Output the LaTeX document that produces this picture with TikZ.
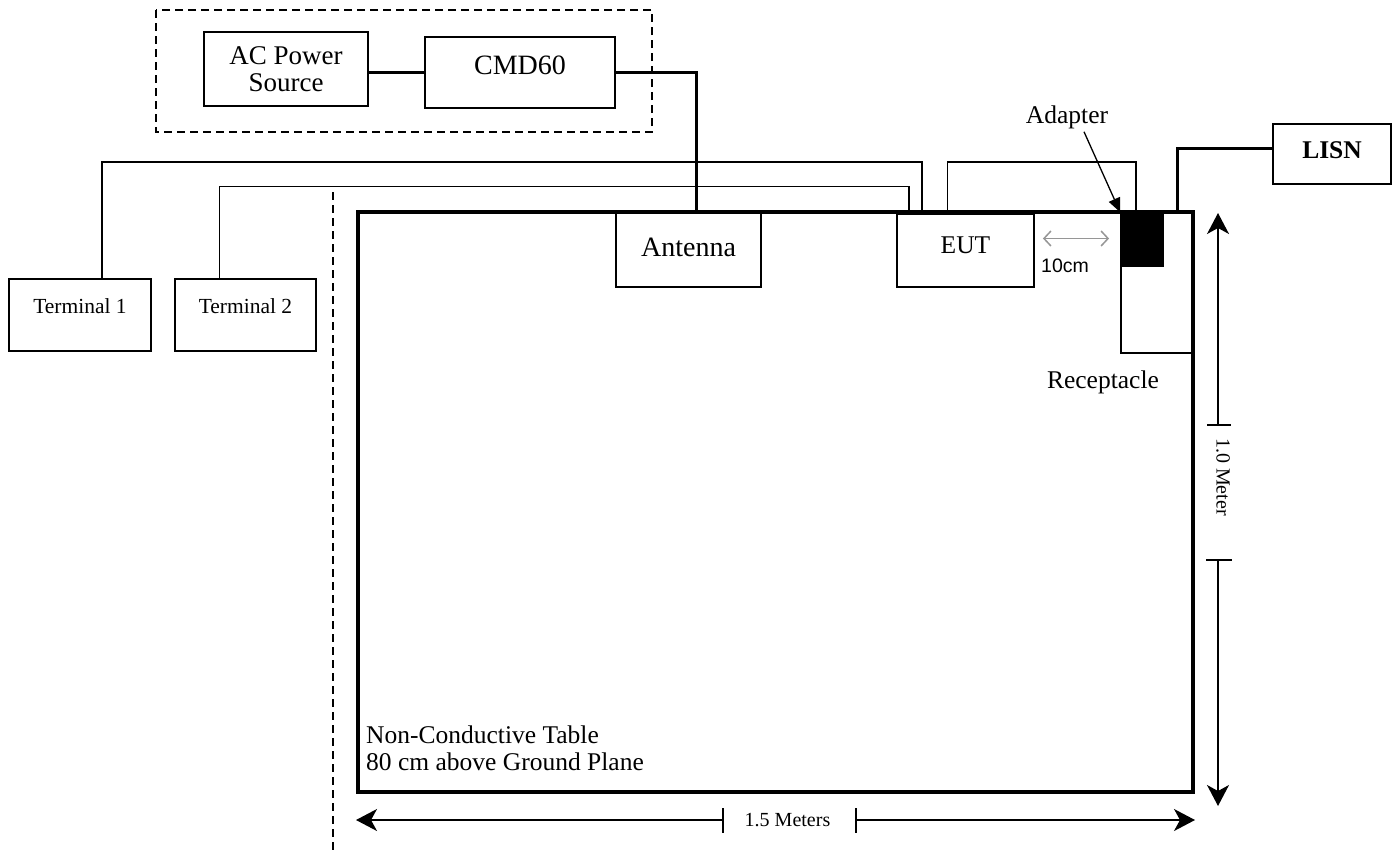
\documentclass[tikz,border=0pt]{standalone}
\usepackage{fontspec}
\setmainfont{Liberation Serif}
\newfontfamily\arialfont{Liberation Sans}
\usetikzlibrary{arrows.meta}
\newcommand\fsz[2]{\fontsize{#1}{#2}\selectfont}
\definecolor{dimgrey}{RGB}{150,150,150}
\begin{document}
\begin{tikzpicture}[x=1pt,y=-1pt,
  box/.style={draw, line width=1.8pt, rectangle, inner sep=0pt},
  cable/.style={line width=1.5pt},
  heavy/.style={line width=3pt},
  dimline/.style={line width=1.5pt},
  dimarrow/.style={line width=1.5pt, -{Stealth[length=21pt,width=22pt,inset=6pt]}},
  lbl/.style={inner sep=0pt}]
\useasboundingbox (0,0) rectangle (1399,854);

% dashed enclosure
\draw[line width=1.8pt, dash pattern=on 8pt off 5pt] (156,10) rectangle (652,132);

% boxes
\node[box, minimum width=164pt, minimum height=74pt, align=center, font=\fsz{27}{26.5}] (ac) at (286,69) {AC Power\\Source};
\node[box, minimum width=190pt, minimum height=71pt,
      label={[lbl, font=\fsz{28}{30}, yshift=7pt]center:CMD60}] (cmd) at (520,72.5) {};
\node[box, minimum width=142pt, minimum height=72pt,
      label={[lbl, font=\fsz{21.5}{23}, yshift=9pt]center:Terminal 1}] (t1) at (80,315) {};
\node[box, minimum width=141pt, minimum height=72pt,
      label={[lbl, font=\fsz{21.5}{23}, yshift=9pt]center:Terminal 2}] (t2) at (245.5,315) {};
\node[box, minimum width=145pt, minimum height=74pt,
      label={[lbl, font=\fsz{28}{30}, yshift=3pt]center:Antenna}] (ant) at (688.5,250) {};
\node[box, minimum width=137pt, minimum height=73pt,
      label={[lbl, font=\fsz{25.5}{27}, yshift=5pt]center:EUT}] (eut) at (965.5,250.5) {};
\node[box, minimum width=72pt, minimum height=140pt] (rec) at (1157,283) {};
\node[box, fill=black, minimum width=42pt, minimum height=53pt] (adp) at (1142,239.5) {};
\node[box, minimum width=118pt, minimum height=60pt,
      label={[lbl, font=\bfseries\fsz{25.5}{27}, yshift=4pt]center:LISN}] (lisn) at (1332,154) {};

% table
\node[draw, line width=3.5pt, rectangle, inner sep=0pt, minimum width=835pt, minimum height=580pt] (table) at (775.5,502) {};
\node[lbl, anchor=west, align=left, font=\fsz{25.5}{27}] (tabletext) at (366,748) {Non-Conductive Table\\80 cm above Ground Plane};

% cables
\draw[heavy] (ac.east |- cmd.west) -- (cmd.west);
\draw[heavy] (cmd.east) -| ([xshift=8pt]ant.north);
\draw[cable] ([xshift=22pt]t1.north) -- ++(0,-116) -| ([xshift=-43.5pt]eut.north);
\draw[cable] ([xshift=-26pt]t2.north) -- ++(0,-91.7) -| ([xshift=-56.5pt]eut.north);
\draw[cable] ([xshift=-18pt]eut.north) -- ++(0,-51) -| ([xshift=-6pt]adp.north);
\draw[heavy] ([xshift=20pt]rec.north) |- ([yshift=6pt]lisn.west);

% ground plane limit
\draw[line width=1.5pt, dash pattern=on 8pt off 5pt] (333,192) -- (333,854);

% adapter label
\node[lbl, font=\fsz{25.5}{27}] (adlbl) at (1067,117) {Adapter};
\draw[line width=1.3pt, -{Triangle[length=14pt,width=12pt]}] ([shift={(17,3)}]adlbl.south) -- (adp.north west);

% 10 cm
\draw[dimgrey, line width=1.5pt, {Straight Barb[length=7pt,width=15pt]}-{Straight Barb[length=7pt,width=15pt]}]
  ([shift={(8,-12)}]eut.east) -- ([shift={(-11,-1)}]adp.west);
\node[lbl, font=\arialfont\fsz{19.5}{21}] (tencm) at (1065,266) {10cm};

% receptacle label
\node[lbl, font=\fsz{25.5}{27}] (reclbl) at (1103,382) {Receptacle};

% vertical dimension
\coordinate (vt) at (1218,213);
\coordinate (vb) at (1218,806);
\coordinate (vu) at (1218,425);
\coordinate (vl) at (1218,560);
\draw[dimarrow] (vu) -- (vt);
\draw[dimarrow] (vl) -- (vb);
\draw[dimline] ([xshift=-11pt]vu) -- ([xshift=13pt]vu);
\draw[dimline] ([xshift=-12pt]vl) -- ([xshift=14pt]vl);
\node[lbl, font=\fsz{20}{22}, rotate=-90] (vlbl) at (1223,477) {1.0 Meter};

% horizontal dimension
\coordinate (hl) at (356,820);
\coordinate (hr) at (1195,820);
\coordinate (hlt) at (723,820);
\coordinate (hrt) at (856,820);
\draw[dimarrow] (hlt) -- (hl);
\draw[dimarrow] (hrt) -- (hr);
\draw[dimline] ([yshift=12pt]hlt) -- ([yshift=-13pt]hlt);
\draw[dimline] ([yshift=12pt]hrt) -- ([yshift=-13pt]hrt);
\node[lbl, font=\fsz{20}{22}] (hlbl) at (787.5,820) {1.5 Meters};
\end{tikzpicture}
\end{document}
